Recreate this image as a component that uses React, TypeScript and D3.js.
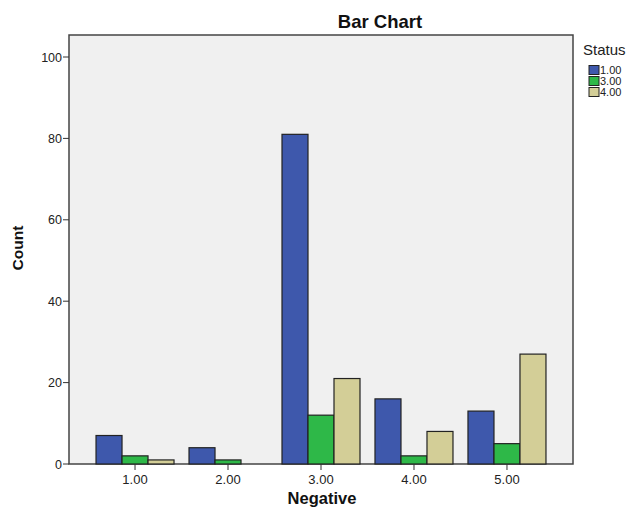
import React from "react";
import * as d3 from "d3";

const categories = ["1.00", "2.00", "3.00", "4.00", "5.00"];
const seriesNames = ["1.00", "3.00", "4.00"];
const status100 = [7, 4, 81, 16, 13];
const status300 = [2, 1, 12, 2, 5];
const status400 = [1, 0, 21, 8, 27];
const yTicks = [0, 20, 40, 60, 80, 100];
const colors = ["#3E58AC", "#2EB848", "#D3CE97"];

export default function App() {
  const W = 629, H = 508;
  const left = 69, right = 573, top = 35, bottom = 464;
  const series = [status100, status300, status400];
  const x = d3.scaleBand<string>().domain(categories).range([left, right]).paddingOuter(0.21).paddingInner(0);
  const y = d3.scaleLinear().domain([0, 100]).range([bottom, 57]);
  const bw = 26;
  const font = "Arial, 'Liberation Sans', sans-serif";
  return (
    <svg width={W} height={H} style={{ position: "absolute", left: 0, top: 0 }} fontFamily={font}>
      <rect x={0} y={0} width={W} height={H} fill="#fff" />
      <rect x={left} y={top} width={right - left} height={bottom - top} fill="#F0F0F0" stroke="#444" strokeWidth={1.5} />
      <text x={380} y={28} textAnchor="middle" fontSize={18.5} fontWeight="bold" fill="#111">Bar Chart</text>
      {yTicks.map((t) => (
        <g key={t}>
          <line x1={left - 6} x2={left} y1={y(t)} y2={y(t)} stroke="#333" />
          <text x={left - 7} y={y(t) + 4.5} textAnchor="end" fontSize={12.5} fill="#222">{t}</text>
        </g>
      ))}
      {categories.map((c, i) => {
        const cx = x(c)! + x.bandwidth() / 2;
        return (
          <g key={c}>
            {series.map((s, j) => {
              const v = s[i];
              if (v <= 0) return null;
              const bx = cx - 1.5 * bw + j * bw;
              return (
                <rect key={j} x={bx} y={y(v)} width={bw} height={bottom - y(v)} fill={colors[j]} stroke="#222" strokeWidth={1.2} />
              );
            })}
            <line x1={cx} x2={cx} y1={bottom} y2={bottom + 6} stroke="#333" />
            <text x={cx} y={bottom + 20} textAnchor="middle" fontSize={13} fill="#222">{c}</text>
          </g>
        );
      })}
      <text x={322} y={504} textAnchor="middle" fontSize={16.5} fontWeight="bold" fill="#111">Negative</text>
      <text transform={`translate(23,248) rotate(-90)`} textAnchor="middle" fontSize={15.5} fontWeight="bold" fill="#111">Count</text>
      <text x={583} y={55} fontSize={15} fill="#222">Status</text>
      {seriesNames.map((n, j) => (
        <g key={n}>
          <rect x={589} y={65.5 + j * 11} width={10} height={9} fill={colors[j]} stroke="#222" strokeWidth={1} />
          <text x={600} y={74 + j * 11} fontSize={11} fill="#222">{n}</text>
        </g>
      ))}
    </svg>
  );
}
